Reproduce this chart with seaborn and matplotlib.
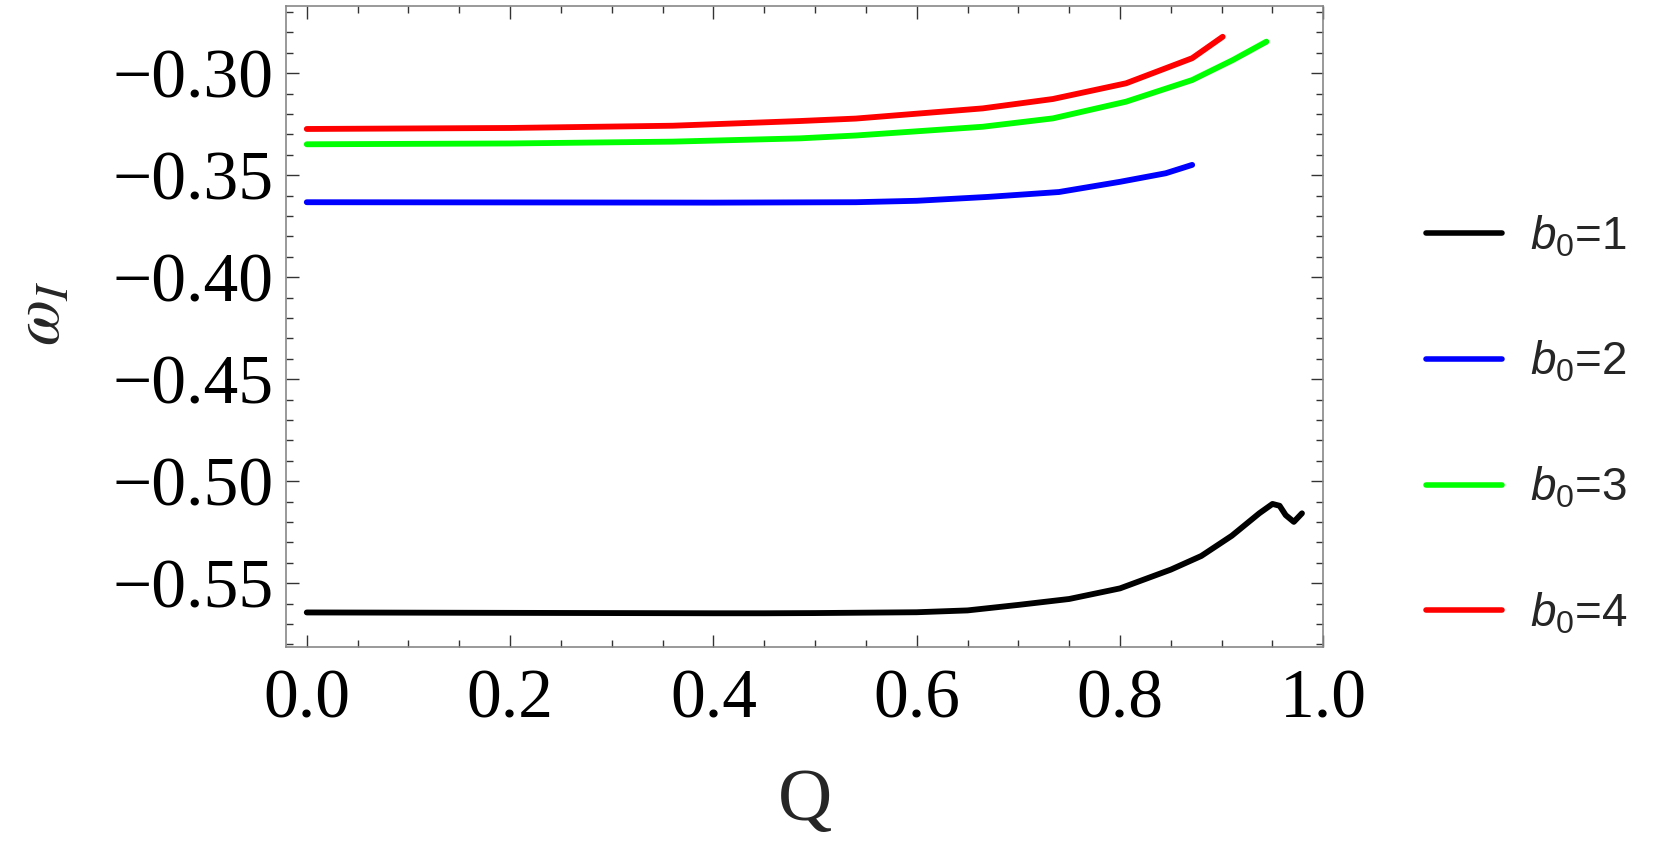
import numpy as np
import pandas as pd
import seaborn as sns
import matplotlib.pyplot as plt
from matplotlib.ticker import MultipleLocator, FuncFormatter
from matplotlib.lines import Line2D

# datos
Q_B1 = [0, 0.1, 0.2, 0.3, 0.4, 0.45, 0.5, 0.55, 0.6, 0.65, 0.7, 0.75, 0.8,
        0.85, 0.88, 0.91, 0.937, 0.95, 0.957, 0.963, 0.971, 0.979]
W_B1 = [-0.5643, -0.5644, -0.5645, -0.5646, -0.5647, -0.5647, -0.5646, -0.5644,
        -0.5642, -0.5633, -0.5606, -0.5577, -0.5525, -0.5433, -0.5366, -0.5267,
        -0.5157, -0.5111, -0.5120, -0.5166, -0.5199, -0.5157]

Q_B2 = [0, 0.2, 0.4, 0.54, 0.6, 0.67, 0.74, 0.8, 0.845, 0.871]
W_B2 = [-0.3632, -0.3633, -0.3634, -0.3632, -0.3625, -0.3606, -0.3582, -0.3532,
        -0.3490, -0.3449]

Q_B3 = [0, 0.2, 0.36, 0.485, 0.54, 0.665, 0.734, 0.806, 0.871, 0.911, 0.944]
W_B3 = [-0.3348, -0.3344, -0.3335, -0.3319, -0.3305, -0.3262, -0.3221, -0.3139,
        -0.3033, -0.2935, -0.2845]

Q_B4 = [0, 0.2, 0.36, 0.485, 0.54, 0.665, 0.734, 0.806, 0.871, 0.901]
W_B4 = [-0.3273, -0.3268, -0.3257, -0.3234, -0.3222, -0.3172, -0.3126, -0.3049,
        -0.2926, -0.2821]

ETIQUETAS = [r"$b_0$=1", r"$b_0$=2", r"$b_0$=3", r"$b_0$=4"]
COLORES = ["#000000", "#0000FF", "#00FF00", "#FF0000"]
X_TICKS = [0.0, 0.2, 0.4, 0.6, 0.8, 1.0]
Y_TICKS = [-0.55, -0.50, -0.45, -0.40, -0.35, -0.30]

# --- tabla larga para seaborn ---
series = [(Q_B1, W_B1), (Q_B2, W_B2), (Q_B3, W_B3), (Q_B4, W_B4)]
df = pd.concat(
    [pd.DataFrame({"Q": q, "w": w, "b0": et}) for (q, w), et in zip(series, ETIQUETAS)],
    ignore_index=True,
)

sns.set_style("ticks")
plt.rcParams["font.family"] = ["Liberation Serif", "DejaVu Serif"]
plt.rcParams["mathtext.fontset"] = "custom"
plt.rcParams["mathtext.rm"] = "Liberation Sans"
plt.rcParams["mathtext.it"] = "Liberation Sans:italic"

fig = plt.figure(figsize=(16.61, 8.49), dpi=100)
ax = fig.add_axes([0.1722, 0.2383, 0.6245, 0.7550])

sns.lineplot(
    data=df, x="Q", y="w", hue="b0", hue_order=ETIQUETAS,
    palette=dict(zip(ETIQUETAS, COLORES)), linewidth=4.2, sort=False,
    estimator=None, ax=ax, legend=False,
)

ax.set_xlim(-0.0204, 0.9996)
ax.set_ylim(-0.58108, -0.26686)
ax.set_xticks(X_TICKS)
ax.set_yticks(Y_TICKS)
ax.xaxis.set_minor_locator(MultipleLocator(0.05))
ax.yaxis.set_minor_locator(MultipleLocator(0.01))
ax.xaxis.set_major_formatter(FuncFormatter(lambda v, p: f"{v:.1f}"))
ax.yaxis.set_major_formatter(FuncFormatter(lambda v, p: f"{v:.2f}".replace("-", "\u2212")))

ax.tick_params(which="both", direction="in", top=True, right=True,
               color="#333333", width=1.0, labelsize=50, labelcolor="black")
ax.tick_params(which="major", length=9)
ax.tick_params(which="minor", length=5)
ax.tick_params(axis="y", which="major", pad=9)
ax.tick_params(axis="x", which="major", pad=16)
for sp in ax.spines.values():
    sp.set_color("#888888")
    sp.set_linewidth(1.2)

ax.set_xlabel("Q", fontsize=54)
ax.xaxis.set_label_coords(0.5, -0.19)
ylab = ax.set_ylabel(r"$\omega_I$", fontsize=48, rotation=90)
ylab.set_math_fontfamily("stix")
ax.yaxis.set_label_coords(-0.205, 0.52)

# leyenda a la derecha
handles = [Line2D([], [], color=c, linewidth=4) for c in COLORES]
leg = fig.legend(handles, ETIQUETAS, loc="center left",
                 bbox_to_anchor=(1426 / 1661, 0.4994), frameon=False,
                 borderaxespad=0, borderpad=0, handlelength=1.66,
                 handletextpad=0.61, labelspacing=1.75,
                 prop={"family": "Liberation Sans", "size": 33})

fig.savefig("out.png", dpi=100)
